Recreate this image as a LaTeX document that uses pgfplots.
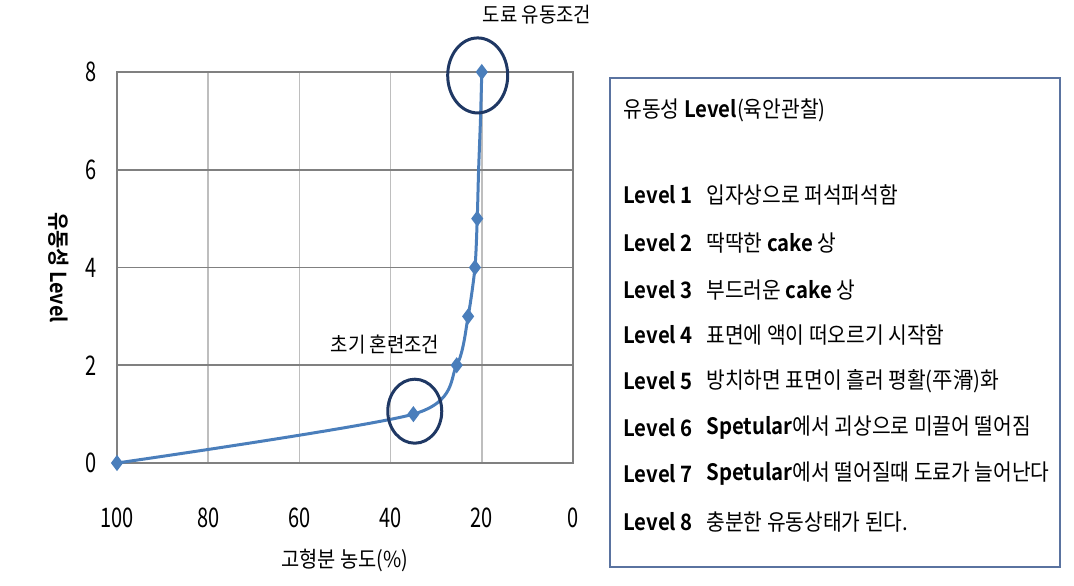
\documentclass[border=0pt]{standalone}
\usepackage{pgfplots}
\pgfplotsset{compat=1.18}
\usepackage{fontspec}
\setmainfont{Noto Sans CJK KR}[FakeStretch=0.9, BoldFont={Noto Sans CJK KR Bold}, BoldFeatures={FakeStretch=0.9}]
\newfontfamily\tickfont{Noto Sans CJK KR}[FakeStretch=0.74]
\definecolor{lineblue}{RGB}{74,126,187}
\definecolor{navy}{RGB}{31,56,100}
\definecolor{boxblue}{RGB}{90,115,160}
\definecolor{hgrid}{RGB}{128,128,128}
\definecolor{vgrid}{RGB}{190,190,190}
\begin{document}
\begin{tikzpicture}
\useasboundingbox (0,0) rectangle (537pt,292.5pt);
\begin{axis}[
  at={(58.5pt,61pt)}, anchor=south west,
  scale only axis, width=228pt, height=195.5pt,
  x dir=reverse, xmin=0, xmax=100, ymin=0, ymax=8,
  xtick={0,20,...,100}, ytick={0,2,...,8},
  major tick length=0pt,
  grid=major,
  x grid style={vgrid, line width=0.8pt},
  y grid style={hgrid, line width=0.8pt},
  axis line style={hgrid, line width=1pt},
  tick label style={font=\tickfont\fontsize{13.5}{15}\selectfont},
  /pgf/number format/assume math mode=true,
  yticklabel style={xshift=-6.5pt},
  xticklabel style={yshift=-19pt},
  xlabel={고형분 농도(\%)},
  ylabel={\textbf{유동성 Level}},
  every axis x label/.style={at={(axis description cs:0.5,0)}, anchor=center, yshift=-48.5pt, font=\fontsize{11}{13}\selectfont},
  every axis y label/.style={at={(axis description cs:0,0.5)}, anchor=center, xshift=-29pt, rotate=-90, font=\fontsize{11}{13}\selectfont},
  clip=false,
]
\addplot[lineblue, line width=1.5pt, smooth, tension=0.45, mark=diamond*, mark size=2.8pt, mark indices={1,2,3,4,5,6,9}, mark options={fill=lineblue, draw=lineblue}]
coordinates {(100,0) (35,1) (25.5,2) (23,3) (21.5,4) (21,5) (20.7,6) (20.3,7) (20,8)};
\draw[navy, line width=1.5pt] (axis cs:20.9,7.93) ellipse [x radius=15pt, y radius=18.75pt];
\draw[navy, line width=1.5pt] (axis cs:34.7,1.06) ellipse [x radius=13.5pt, y radius=16pt];
\end{axis}
\node[font=\fontsize{10.5}{12}\selectfont, anchor=center] at (268.5pt,285pt) {도료 유동조건};
\node[font=\fontsize{10.5}{12}\selectfont, anchor=center] at (192.5pt,120pt) {초기 혼련조건};
\draw[boxblue, line width=1.2pt] (305pt,9pt) rectangle (530pt,253.5pt);
\begin{scope}[every node/.style={anchor=west, inner sep=0pt, font=\fontsize{11.3}{13}\selectfont}]
\node at (311.5pt,237.5pt) {유동성 \textbf{Level}(육안관찰)};
\node at (311.5pt,195pt) {\textbf{Level 1}};   \node at (353pt,195pt) {입자상으로 퍼석퍼석함};
\node at (311.5pt,171pt) {\textbf{Level 2}};   \node at (353pt,171pt) {딱딱한 \textbf{cake} 상};
\node at (311.5pt,147.5pt) {\textbf{Level 3}}; \node at (353pt,147.5pt) {부드러운 \textbf{cake} 상};
\node at (311.5pt,125pt) {\textbf{Level 4}};   \node at (353pt,125pt) {표면에 액이 떠오르기 시작함};
\node at (311.5pt,102pt) {\textbf{Level 5}};   \node at (353pt,102pt) {방치하면 표면이 흘러 평활(平滑)화};
\node at (311.5pt,78.5pt) {\textbf{Level 6}};  \node at (353pt,78.5pt) {\textbf{Spetular}에서 괴상으로 미끌어 떨어짐};
\node at (311.5pt,55.5pt) {\textbf{Level 7}};  \node at (353pt,55.5pt) {\textbf{Spetular}에서 떨어질때 도료가 늘어난다};
\node at (311.5pt,31.5pt) {\textbf{Level 8}};  \node at (353pt,31.5pt) {충분한 유동상태가 된다.};
\end{scope}
\end{tikzpicture}
\end{document}
